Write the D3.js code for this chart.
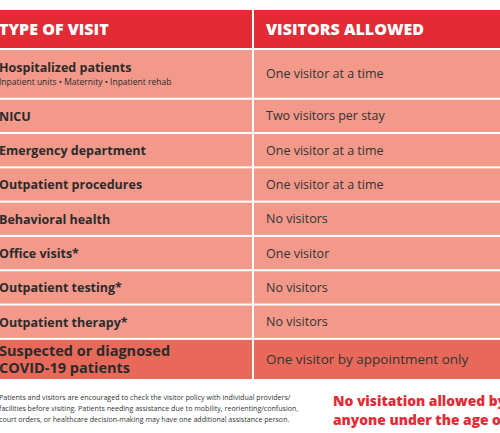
<!DOCTYPE html>
<html><head><meta charset="utf-8">
<script src="https://cdn.jsdelivr.net/npm/d3@7"></script>
<style>body{margin:0;background:#fff;}svg{display:block;}</style>
</head><body>
<script>
const headers = ["TYPE OF VISIT", "VISITORS ALLOWED"];
const visitTypes = [["Hospitalized patients"], ["NICU"], ["Emergency department"], ["Outpatient procedures"], ["Behavioral health"], ["Office visits*"], ["Outpatient testing*"], ["Outpatient therapy*"], ["Suspected or diagnosed", "COVID-19 patients"]];
const subtitles = ["Inpatient units • Maternity • Inpatient rehab", "", "", "", "", "", "", "", ""];
const allowed = ["One visitor at a time", "Two visitors per stay", "One visitor at a time", "One visitor at a time", "No visitors", "One visitor", "No visitors", "No visitors", "One visitor by appointment only"];
const footnote = ["Patients and visitors are encouraged to check the visitor policy with individual providers/", "facilities before visiting. Patients needing assistance due to mobility, reorienting/confusion,", "court orders, or healthcare decision-making may have one additional assistance person."];
const notice = ["No visitation allowed by", "anyone under the age of 18"];

const W = 500, H = 433;
const svg = d3.select("body").append("svg").attr("width", W).attr("height", H);
const font = "'Open Sans', 'DejaVu Sans', sans-serif";

const weights = visitTypes.map((v, i) => subtitles[i] ? 1.45 : (v.length > 1 ? 1.2 : 1));
const cum = [0]; weights.forEach(w => cum.push(cum[cum.length - 1] + w));
const y = d3.scaleLinear().domain([0, cum[cum.length - 1]]).range([49, 380]);
const xSplit = 253;

svg.append("rect").attr("x", 0).attr("y", 10).attr("width", xSplit - 1).attr("height", 38).attr("fill", "#e32b36");
svg.append("rect").attr("x", xSplit + 1).attr("y", 10).attr("width", W - xSplit).attr("height", 38).attr("fill", "#e32b36");
svg.selectAll(".h").data(headers).join("text")
  .attr("x", (d, i) => i === 0 ? -1 : 266).attr("y", 35)
  .attr("font-family", font).attr("font-weight", 800).attr("font-size", 16)
  .attr("fill", "#fff").text(d => d);

const rows = svg.selectAll(".row").data(visitTypes).join("g");
rows.each(function (d, i) {
  const g = d3.select(this);
  const y0 = y(cum[i]) + 1, y1 = y(cum[i + 1]) - 1;
  const fill = i === visitTypes.length - 1 ? "#e8695a" : "#f2998a";
  g.append("rect").attr("x", 0).attr("y", y0).attr("width", xSplit - 1).attr("height", y1 - y0).attr("fill", fill);
  g.append("rect").attr("x", xSplit + 1).attr("y", y0).attr("width", W - xSplit).attr("height", y1 - y0).attr("fill", fill);
  const mid = (y0 + y1) / 2;
  const big = d.length > 1;
  const fs = big ? 14.5 : 12.5;
  if (subtitles[i]) {
    g.append("text").attr("x", -1).attr("y", mid - 2).attr("font-family", font).attr("font-weight", 700)
      .attr("font-size", fs).attr("fill", "#2b2b2b").text(d[0]);
    g.append("text").attr("x", -1).attr("y", mid + 11).attr("font-family", font)
      .attr("font-size", 8.5).attr("fill", "#2b2b2b").text(subtitles[i]);
  } else {
    d.forEach((line, k) => {
      g.append("text").attr("x", -1).attr("y", mid + 5 + (k - (d.length - 1) / 2) * 16.5)
        .attr("font-family", font).attr("font-weight", 700).attr("font-size", fs)
        .attr("fill", "#2b2b2b").text(line);
    });
  }
  g.append("text").attr("x", 266).attr("y", mid + 4.5).attr("font-family", font)
    .attr("font-size", big ? 13.5 : 12.5).attr("fill", "#333").text(allowed[i]);
});

svg.selectAll(".fn").data(footnote).join("text")
  .attr("x", -1).attr("y", (d, i) => 400 + i * 11).attr("font-family", font)
  .attr("font-size", 7.1).attr("fill", "#333").text(d => d);
svg.selectAll(".nt").data(notice).join("text")
  .attr("x", 333).attr("y", (d, i) => 406 + i * 19).attr("font-family", font)
  .attr("font-weight", 800).attr("font-size", 13.8).attr("fill", "#e32b36").text(d => d);
</script>
</body></html>
